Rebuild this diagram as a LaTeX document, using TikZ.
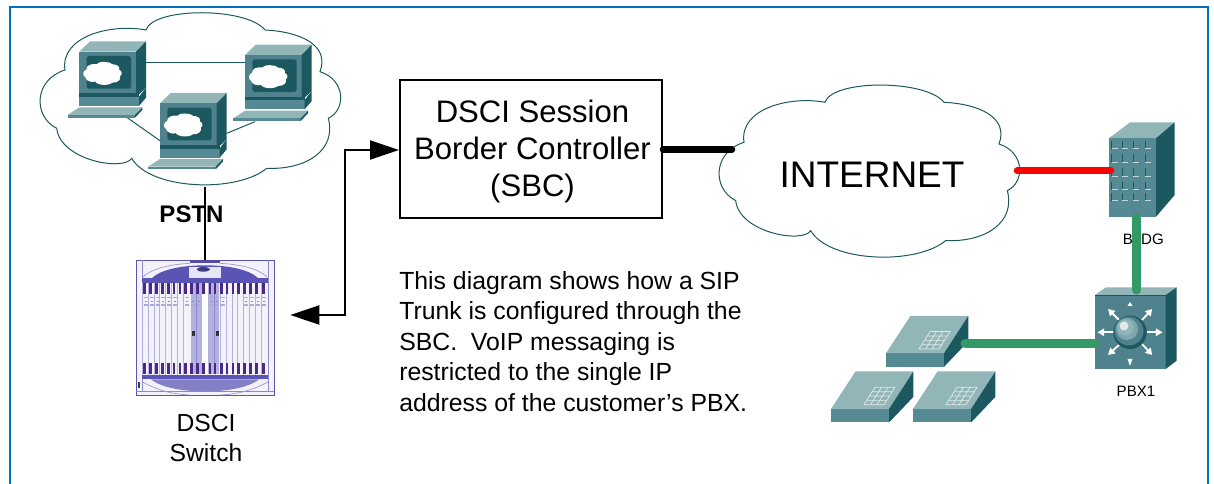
\documentclass[tikz,border=0pt]{standalone}
\usepackage{fontspec}
\setmainfont{Liberation Sans}
\usetikzlibrary{arrows.meta}
\definecolor{cLight}{HTML}{92B5B8}
\definecolor{cMid}{HTML}{4F828C}
\definecolor{cBase}{HTML}{558A94}
\definecolor{cDark}{HTML}{1B5860}
\definecolor{cGreen}{HTML}{339966}
\definecolor{cBlue}{HTML}{0070C0}
\definecolor{cPurple}{HTML}{5A55B5}
\definecolor{cSlot}{HTML}{4A2A88}
\definecolor{cCard}{HTML}{B3B1DD}
\definecolor{cLav}{HTML}{F3F2FB}
\newcommand{\cloudshape}{(0,0) .. controls (7.3,-23) and (100.7,-23) .. (119,0)
  .. controls (154,1.7) and (184,15) .. (174,41.7)
  .. controls (200,50) and (200,80) .. (182.3,88.3)
  .. controls (190.7,120) and (160.7,140) .. (120.7,138.3)
  .. controls (90.7,163.3) and (4,160) .. (-14.3,128.3)
  .. controls (-22.7,141.7) and (-86,130) .. (-89.3,98.3)
  .. controls (-112.7,86.7) and (-112.7,50) .. (-81,40)
  .. controls (-86,6.7) and (-36,-6.7) .. (0,0) -- cycle}
\tikzset{
  px/.style={line width=#1*0.75pt},
  cloudline/.style={draw=cDark,px=1,fill=white},
  pclink/.style={draw=cDark,px=1},
  thin black/.style={draw=black,px=2},
  wire/.style={px=#1,line cap=round},
  txt/.style={align=center,inner sep=0pt,font=\fontsize{18.5pt}{22.4pt}\selectfont},
  smalltxt/.style={inner sep=0pt,font=\fontsize{11.3pt}{13pt}\selectfont},
  whitearrow/.style={draw=white,px=1.8,-{Triangle[length=5pt,width=5.5pt]}},
  pics/netcloud/.style={code={\draw[cloudline] \cloudshape;}},
  pics/computer/.style={code={
    \fill[cLight] (0,0)--(10.7,-10.3)--(66.7,-10.3)--(56.7,0)--cycle;
    \fill[cMid] (0,0) rectangle (56.7,41.7);
    \fill[cDark] (56.7,0)--(66.7,-10.3)--(66.7,36)--(56.7,45.5)--cycle;
    \fill[cDark] (0,41.7) rectangle (59.7,45.5);
    \fill[cBase] (0,45.5) rectangle (59.7,54.3);
    \fill[cDark] (59.7,45)--(66.7,36)--(66.7,46)--(59.7,54.3)--cycle;
    \fill[cLight] (-11.7,63.3)--(0,55.7)--(63,55.7)--(55.7,63.3)--cycle;
    \fill[cBase] (-11.7,63.3) rectangle (55.7,66);
    \fill[cDark] (55.7,63.3)--(63,55.7)--(63,58.3)--(55.7,66)--cycle;
    \fill[cDark,rounded corners=2pt] (7.3,4.3) rectangle (51.7,37);
    \begin{scope}[shift={(17.5,12.5)},x=0.096pt,y=-0.1pt]
      \fill[white] \cloudshape;
    \end{scope}
  }},
  pics/hubbox/.style={code={
    \fill[cLight] (0,0)--(24.5,-37.5)--(82.3,-37.5)--(58,0)--cycle;
    \fill[cBase] (0,0) rectangle (58,13.5);
    \fill[cDark] (58,0)--(82.3,-37.5)--(82.3,-12)--(58,13.5)--cycle;
    \draw[white!70!cLight,px=.7] (44,-21.7)--(64,-21.7)--(53,-4.3)--(33,-4.3)--cycle
      (38.5,-13)--(58.5,-13) (41.2,-17.3)--(61.2,-17.3) (35.8,-8.6)--(55.8,-8.6)
      (50.5,-21.7)--(39.5,-4.3) (57,-21.7)--(46,-4.3);
  }},
  pics/bldg/.style={code={
    \fill[cLight] (0,0)--(21,-16)--(65.7,-16)--(47,0)--cycle;
    \fill[cBase] (0,0) rectangle (47,78.4);
    \fill[cDark] (47,0)--(65.7,-16)--(65.7,56.7)--(47,78.4)--cycle;
    \foreach \r in {2.3,16,30,43.3,54.3}{
      \foreach \c in {2.7,13.3,24.3,36}{
        \draw[cDark,px=1] (\c,\r)--(\c,\r+8);
        \draw[white!45!cLight,px=.8] (\c,\r+8)--(\c+6,\r+8);
      }
    }
  }},
  pics/swbox/.style={code={
    \fill[cLight] (0,0)--(11,-7.7)--(81.7,-7.7)--(70.7,0)--cycle;
    \fill[cMid] (0,0) rectangle (70.7,74);
    \fill[cDark] (70.7,0)--(81.7,-7.7)--(81.7,65.7)--(70.7,74)--cycle;
    \draw[cDark,px=.8] (0,0)--(70.7,0);
    \fill[white] (35,7) -- (37.5,11) -- (32.5,11) -- cycle;
    \fill[white] (35,71) -- (37.5,64) -- (32.5,64) -- cycle;
    \draw[whitearrow] (19,37.3)--(2.5,37.3);
    \draw[whitearrow] (52,37.3)--(67.5,37.3);
    \draw[whitearrow] (25,26)--(13,14);
    \draw[whitearrow] (47,25)--(57.3,14);
    \draw[whitearrow] (25,49)--(13,60);
    \draw[whitearrow] (47,49)--(57.3,60);
    \fill[cDark] (35,37.3) circle (16.7);
    \fill[cMid] (34,36) circle (14.5);
    \fill[cBase!75!white] (32,34) circle (11);
    \fill[cLight] (30.5,32.5) circle (8);
    \fill[white!70!cLight] (29,31) circle (4.5);
  }},
}
\begin{document}
\begin{tikzpicture}[x=0.75pt,y=-0.75pt]
\useasboundingbox (0,0) rectangle (1214,484);
% frame
\coordinate (fbl) at (10,484);
\coordinate (ftl) at (10,7);
\coordinate (ftr) at (1207.5,7);
\coordinate (fbr) at (1207.5,484);
\draw[cBlue,px=2] (fbl)--(ftl)--(ftr)--(fbr);
% PSTN cloud and computers
\pic at (146,30) {netcloud};
\coordinate (pc1in) at (146,62.3);
\coordinate (pc3in) at (245,62.3);
\coordinate (pc1low) at (127.3,117.7);
\coordinate (pc2l) at (160,140.7);
\coordinate (pc2r) at (226.7,133.3);
\coordinate (pc3low) at (255,121.7);
\draw[pclink] (pc1in)--(pc3in);
\draw[pclink] (pc1low)--(pc2l);
\draw[pclink] (pc2r)--(pc3low);
\pic at (79.3,51.7) {computer};
\pic at (245,55) {computer};
\pic at (160,103.3) {computer};
% PSTN label
\node[inner sep=0pt,font=\fontsize{18pt}{22pt}\selectfont\bfseries] (pstn) at (191.5,214) {PSTN};
\coordinate (cloudbot) at (205.3,187);
\coordinate (swtop) at (205.3,260);
\draw[thin black] (cloudbot)--(swtop);
% DSCI chassis
\begin{scope}[shift={(120,240)},x=0.25pt,y=-0.25pt]
  \fill[cLav] (48,60) rectangle (462,465);
  \draw[cPurple,px=.8] (48,60) rectangle (462,465);
  \draw[cPurple!70!white,px=.6] (66,60)--(66,455) (445,60)--(445,455) (48,455)--(462,455);
  \fill[cPurple!90!black] (210,60) rectangle (300,68);
  \draw[cPurple!60!white,px=.7] (68,112) .. controls (100,80) and (170,72) .. (210,70) (442,112) .. controls (410,80) and (340,72) .. (300,70);
  \fill[cPurple] (95,115) .. controls (120,90) and (180,76) .. (255,76) .. controls (330,76) and (390,90) .. (415,115) --cycle;
  \fill[cLav!80!cCard] (208,80) rectangle (302,125);
  \fill[cPurple!70!black] (250,88) ellipse (20 and 7);
  \fill[cPurple] (66,115) rectangle (445,128);
  \foreach \x in {66,84,102,119,137,154,172,189,300,318,336,353,371,388,406,423}{
    \draw[cCard,px=.7] (\x,128)--(\x,405);
  }
  \fill[cCard] (212,128) rectangle (245,402);
  \fill[cCard] (265,128) rectangle (298,402);
  \fill[white] (245,128) rectangle (265,402);
  \draw[cPurple!70!white,px=.5] (228,128)--(228,402) (282,128)--(282,402);
  \foreach \x in {74,92,110,127,145,162,180,197,215,232,250,270,285,304,321,339,356,374,391,409,430}{
    \fill[cSlot] (\x-4,130) rectangle (\x+4,163);
    \fill[cSlot] (\x-4,370) rectangle (\x+4,403);
  }
  \foreach \x in {77,95,113,130,148,165,202,220,237,274,291,308,378,396,414,432}{
    \fill[cPurple!50!white] (\x-6,170) rectangle (\x+6,174);
    \fill[red!60!white] (\x-3,182) rectangle (\x+3,185);
    \fill[cPurple!50!white] (\x-6,193) rectangle (\x+6,197);
  }
  \fill[black!80] (216,274) rectangle (224,288);
  \fill[black!80] (288,274) rectangle (296,288);
  \fill[cPurple] (66,405) rectangle (445,418);
  \fill[cPurple!75!white] (92,418) .. controls (130,445) and (190,454) .. (255,454) .. controls (320,454) and (380,445) .. (418,418) --cycle;
  \draw[cPurple!60!white,px=.7] (66,425) .. controls (120,455) and (160,462) .. (210,465) (445,425) .. controls (390,455) and (350,462) .. (300,465);
  \fill[black!75] (53,425) rectangle (61,445);
\end{scope}
\node[txt] (dsci) at (206,438) {DSCI\\Switch};
% SBC
\node[draw=black,px=2,minimum width=262*0.75pt,minimum height=138*0.75pt,inner sep=0pt] (sbc) at (531,149) {};
\node[inner sep=0pt,align=center,font=\fontsize{23.3pt}{27.7pt}\selectfont] (sbct) at (532.5,151.5) {DSCI Session\\Border Controller\\(SBC)};
\coordinate (swarrow) at (290.3,315);
\coordinate (bend1) at (345,315);
\coordinate (bend2) at (345,150);
\draw[thin black,{Triangle[length=21.75pt,width=14.25pt]}-{Triangle[length=21.75pt,width=14.25pt]}] (swarrow)--(bend1)--(bend2)--(sbc.west |- bend2);
% Internet
\pic at (825,102.3) {netcloud};
\node[inner sep=0pt,font=\fontsize{27.75pt}{32pt}\selectfont] (inet) at (872,174.5) {INTERNET};
\coordinate (inetl) at (732,149.5);
\coordinate (inetr) at (1017,170.7);
\draw[black,wire=6.5] (sbc.east |- inetl)--(inetl);
% Building and switch
\pic at (1109,138.3) {bldg};
\coordinate (bldgl) at (1111,170.7);
\draw[red,wire=6.5] (inetr)--(bldgl);
\node[smalltxt] (bldgt) at (1143.3,239.5) {BLDG};
\pic at (1095,295) {swbox};
\coordinate (bldgb) at (1136.7,218);
\coordinate (swt) at (1136.7,290);
\draw[cGreen,wire=9] (bldgb)--(swt);
\node[smalltxt] (pbxt) at (1136,391.7) {PBX1};
% Hubs
\pic at (886,353.3) {hubbox};
\pic at (831,409) {hubbox};
\pic at (913,409) {hubbox};
\coordinate (hubr) at (965,343.7);
\coordinate (swl) at (1095,343.7);
\draw[cGreen,wire=9] (hubr)--(swl);
% Caption
\node[anchor=north west,inner sep=0pt,align=left,font=\fontsize{18.6pt}{22.9pt}\selectfont] (cap) at (399,271) {This diagram shows how a SIP\\Trunk is configured through the\\SBC.\ \ VoIP messaging is\\restricted to the single IP\\address of the customer’s PBX.};
\end{tikzpicture}
\end{document}
